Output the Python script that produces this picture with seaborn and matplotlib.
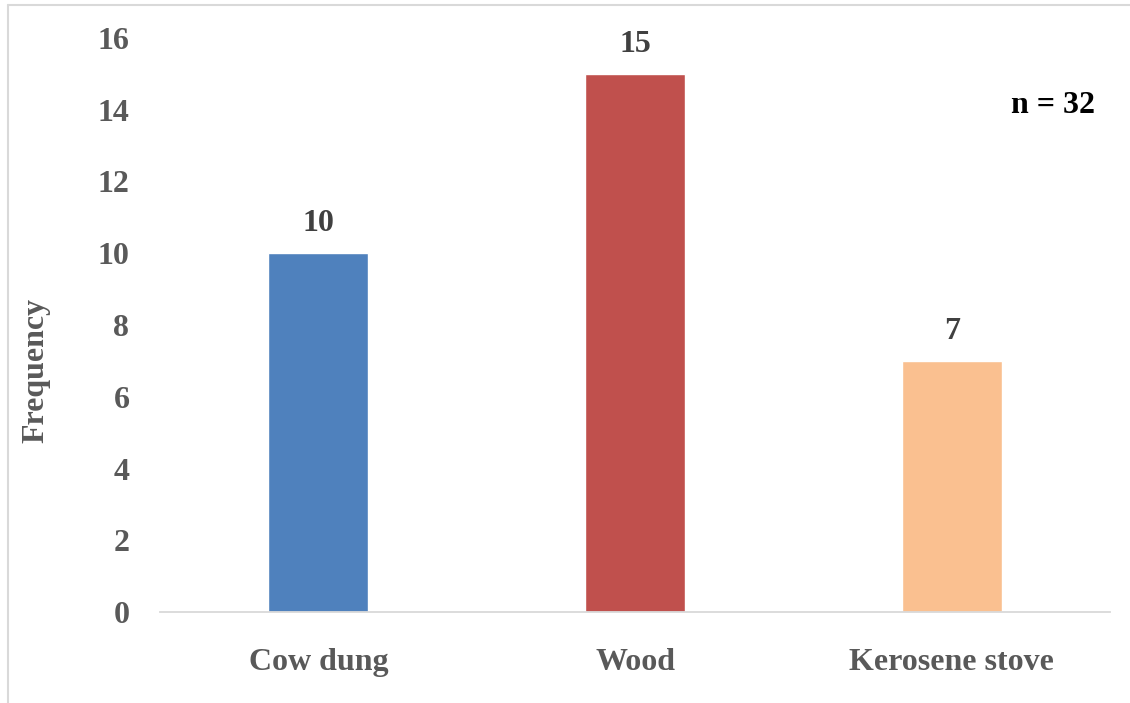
import pandas as pd
import seaborn as sns
import matplotlib.pyplot as plt
from matplotlib.lines import Line2D

# data
fuels = ['Cow dung', 'Wood', 'Kerosene stove']
frequency = [10, 15, 7]
colors = ['#4F81BD', '#C0504D', '#FAC090']

df = pd.DataFrame({'fuel': fuels, 'freq': frequency})

sns.set_theme(style='white')
plt.rcParams['font.family'] = ['Liberation Serif', 'DejaVu Serif']
plt.rcParams['font.weight'] = 'bold'

fig = plt.figure(figsize=(11.3, 7.03), dpi=100)
ax = fig.add_axes([160/1130, 91/703, 950/1130, (612-38)/703])

sns.barplot(data=df, x='fuel', y='freq', hue='fuel', palette=colors,
            legend=False, width=0.316, saturation=1, ax=ax)

for c in ax.containers:
    ax.bar_label(c, padding=11, fontsize=23, fontweight='bold', color='#404040')

ax.set_ylim(0, 16)
ax.set_yticks(range(0, 17, 2))
ax.tick_params(axis='y', length=0, pad=22, labelsize=23, labelcolor='#595959')
ax.tick_params(axis='x', length=0, pad=26, labelsize=23, labelcolor='#595959')
for lab in ax.get_xticklabels() + ax.get_yticklabels():
    lab.set_fontweight('bold')

ax.set_xlabel('')
ax.set_ylabel('Frequency', fontsize=23, fontweight='bold', color='#595959')
ax.yaxis.set_label_coords(-0.115, 0.42)

for s in ['top', 'right', 'left']:
    ax.spines[s].set_visible(False)
ax.spines['bottom'].set_color('#D9D9D9')
ax.spines['bottom'].set_linewidth(1.3)

ax.text(0.984, 0.883, 'n = 32', transform=ax.transAxes, ha='right', va='center',
        fontsize=23, fontweight='bold', color='black')

# chart border
fig.add_artist(Line2D([8/1130, 1], [1 - 5/703, 1 - 5/703], color='#D9D9D9', lw=1.5))
fig.add_artist(Line2D([8/1130, 8/1130], [0, 1 - 5/703], color='#D9D9D9', lw=1.5))

fig.savefig('out.png', dpi=100)
